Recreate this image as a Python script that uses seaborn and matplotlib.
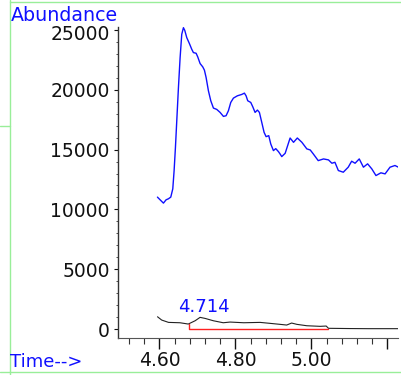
import numpy as np
import pandas as pd
import matplotlib
matplotlib.use("Agg")
import matplotlib.pyplot as plt
import matplotlib.transforms as mtrans
from matplotlib.lines import Line2D
from matplotlib.ticker import MultipleLocator, FixedLocator, FixedFormatter
import seaborn as sns

# ---- data ----
tic_time = [4.5948, 4.6018, 4.6106, 4.6176, 4.6237, 4.6299, 4.6352, 4.6387, 4.6422, 4.6457,
            4.6501, 4.6545, 4.6588, 4.6632, 4.6667, 4.6720, 4.6790, 4.6851, 4.6895, 4.6966,
            4.7009, 4.7071, 4.7141, 4.7185, 4.7229, 4.7290, 4.7352, 4.7422, 4.7509, 4.7597,
            4.7685, 4.7755, 4.7816, 4.7878, 4.7948, 4.8053, 4.8167, 4.8237, 4.8281, 4.8325,
            4.8404, 4.8457, 4.8518, 4.8580, 4.8632, 4.8694, 4.8755, 4.8808, 4.8878, 4.8931,
            4.9001, 4.9062, 4.9133, 4.9176, 4.922, 4.931, 4.944, 4.953, 4.963, 4.975,
            4.988, 4.997, 5.005, 5.018, 5.032, 5.045, 5.054, 5.062, 5.071, 5.084,
            5.097, 5.106, 5.115, 5.126, 5.137, 5.148, 5.159, 5.170, 5.183, 5.194,
            5.207, 5.220, 5.229]
tic_abund = [11028, 10804, 10527, 10804, 10888, 11028, 11721, 13249, 15194, 17416,
             20194, 22694, 24639, 25194, 24972, 24361, 23861, 23389, 23111, 23055,
             22750, 22194, 21916, 21639, 21027, 19916, 19083, 18472, 18361, 18110,
             17777, 17833, 18249, 18944, 19305, 19499, 19611, 19722, 19499, 19083,
             18944, 18583, 18110, 18305, 18110, 17277, 16444, 16083, 16166, 15471,
             14916, 15082, 14832, 14638, 14416, 14690, 15970, 15610, 15970, 15610,
             15060, 14970, 14640, 14080, 14220, 14140, 13860, 13940, 13250, 13110,
             13530, 14030, 13860, 14220, 13530, 13810, 13390, 12830, 13060, 12970,
             13530, 13670, 13530]

eic_time = [4.595, 4.606, 4.624, 4.654, 4.676, 4.694, 4.707, 4.720, 4.742, 4.768,
            4.786, 4.822, 4.865, 4.891, 4.918, 4.935, 4.948, 4.962, 4.988, 5.023,
            5.039, 5.045, 5.10, 5.15, 5.20, 5.232]
eic_abund = [1025, 750, 555, 525, 417, 692, 975, 890, 692, 525,
             583, 525, 555, 475, 390, 333, 500, 390, 275, 225,
             250, 60, 40, 30, 30, 30]

base_time = [4.677, 4.677, 5.045]
base_abund = [420, 40, 40]

peak_rt = 4.714
peak_label = "4.714"

y_ticks = [0, 5000, 10000, 15000, 20000, 25000]
x_ticks = [4.60, 4.80, 5.00, 5.20]
x_ticklabels = ["4.60", "4.80", "5.00", ""]

# ---- figure ----
sns.set_style("white")
plt.rcParams['font.family'] = ['DejaVu Sans']

fig = plt.figure(figsize=(4.01, 3.75), dpi=100)
W, H = 401, 375
ax = fig.add_axes([118 / W, 1 - 338 / H, (398 - 118) / W, (338 - 27) / H])

tic = pd.DataFrame({"time": tic_time, "abund": tic_abund})
eic = pd.DataFrame({"time": eic_time, "abund": eic_abund})
base = pd.DataFrame({"time": base_time, "abund": base_abund})

sns.lineplot(data=tic, x="time", y="abund", ax=ax, color="#1010ff", lw=1.0,
             sort=False, estimator=None, solid_joinstyle="round")
sns.lineplot(data=eic, x="time", y="abund", ax=ax, color="#222222", lw=0.8,
             sort=False, estimator=None)
sns.lineplot(data=base, x="time", y="abund", ax=ax, color="#ff2020", lw=1.0,
             sort=False, estimator=None)

ax.text(peak_rt + 0.004, 1440, peak_label, color="#1010ff", fontsize=13,
        ha="center", va="baseline")

ax.set_xlim(4.491, 5.228)
ax.set_ylim(-750, 25250)
ax.set_xlabel("")
ax.set_ylabel("")
ax.set_facecolor("white")

for s in ["top", "right"]:
    ax.spines[s].set_visible(False)
ax.spines["left"].set_color("#333333")
ax.spines["left"].set_linewidth(1.0)
ax.spines["bottom"].set_color("#555555")
ax.spines["bottom"].set_linewidth(0.8)

ax.yaxis.set_major_locator(FixedLocator(y_ticks))
ax.yaxis.set_minor_locator(MultipleLocator(1000))
ax.xaxis.set_major_locator(FixedLocator(x_ticks))
ax.xaxis.set_major_formatter(FixedFormatter(x_ticklabels))
ax.xaxis.set_minor_locator(MultipleLocator(0.04))

ax.tick_params(axis="y", which="major", direction="out", length=3, width=0.8,
               labelsize=13.5, pad=3, colors="#111111", left=True)
ax.tick_params(axis="y", which="minor", direction="out", length=1.5, width=0.6,
               left=True, colors="#333333")
ax.tick_params(axis="x", which="major", direction="out", length=8, width=1.0,
               labelsize=13.5, pad=1, colors="#111111", bottom=True)
ax.tick_params(axis="x", which="minor", direction="out", length=4.3, width=0.8,
               bottom=True, colors="#333333")

# nudge the top y label down a little, as in the reference
fig.canvas.draw()
top_lbl = ax.get_yticklabels()[-1]
top_lbl.set_transform(top_lbl.get_transform() +
                      mtrans.ScaledTranslation(0, -2.5 / 100, fig.dpi_scale_trans))

fig.text(10.5 / W, 1 - 21.0 / H, "Abundance", color="#1010ff", fontsize=13.7,
         ha="left", va="baseline")
fig.text(10.5 / W, 1 - 366.7 / H, "Time-->", color="#1010ff", fontsize=13,
         ha="left", va="baseline")

# light green frame lines
green = "#99ee99"
def px_line(x0, y0, x1, y1):
    fig.add_artist(Line2D([x0 / W, x1 / W], [1 - y0 / H, 1 - y1 / H],
                          transform=fig.transFigure, color=green, lw=1.0))
px_line(10, 2, 401, 2)
px_line(10, 0, 10, 375)
px_line(0, 372, 401, 372)
px_line(0, 125.5, 10, 125.5)

fig.savefig("out.png", dpi=100, facecolor="white")
